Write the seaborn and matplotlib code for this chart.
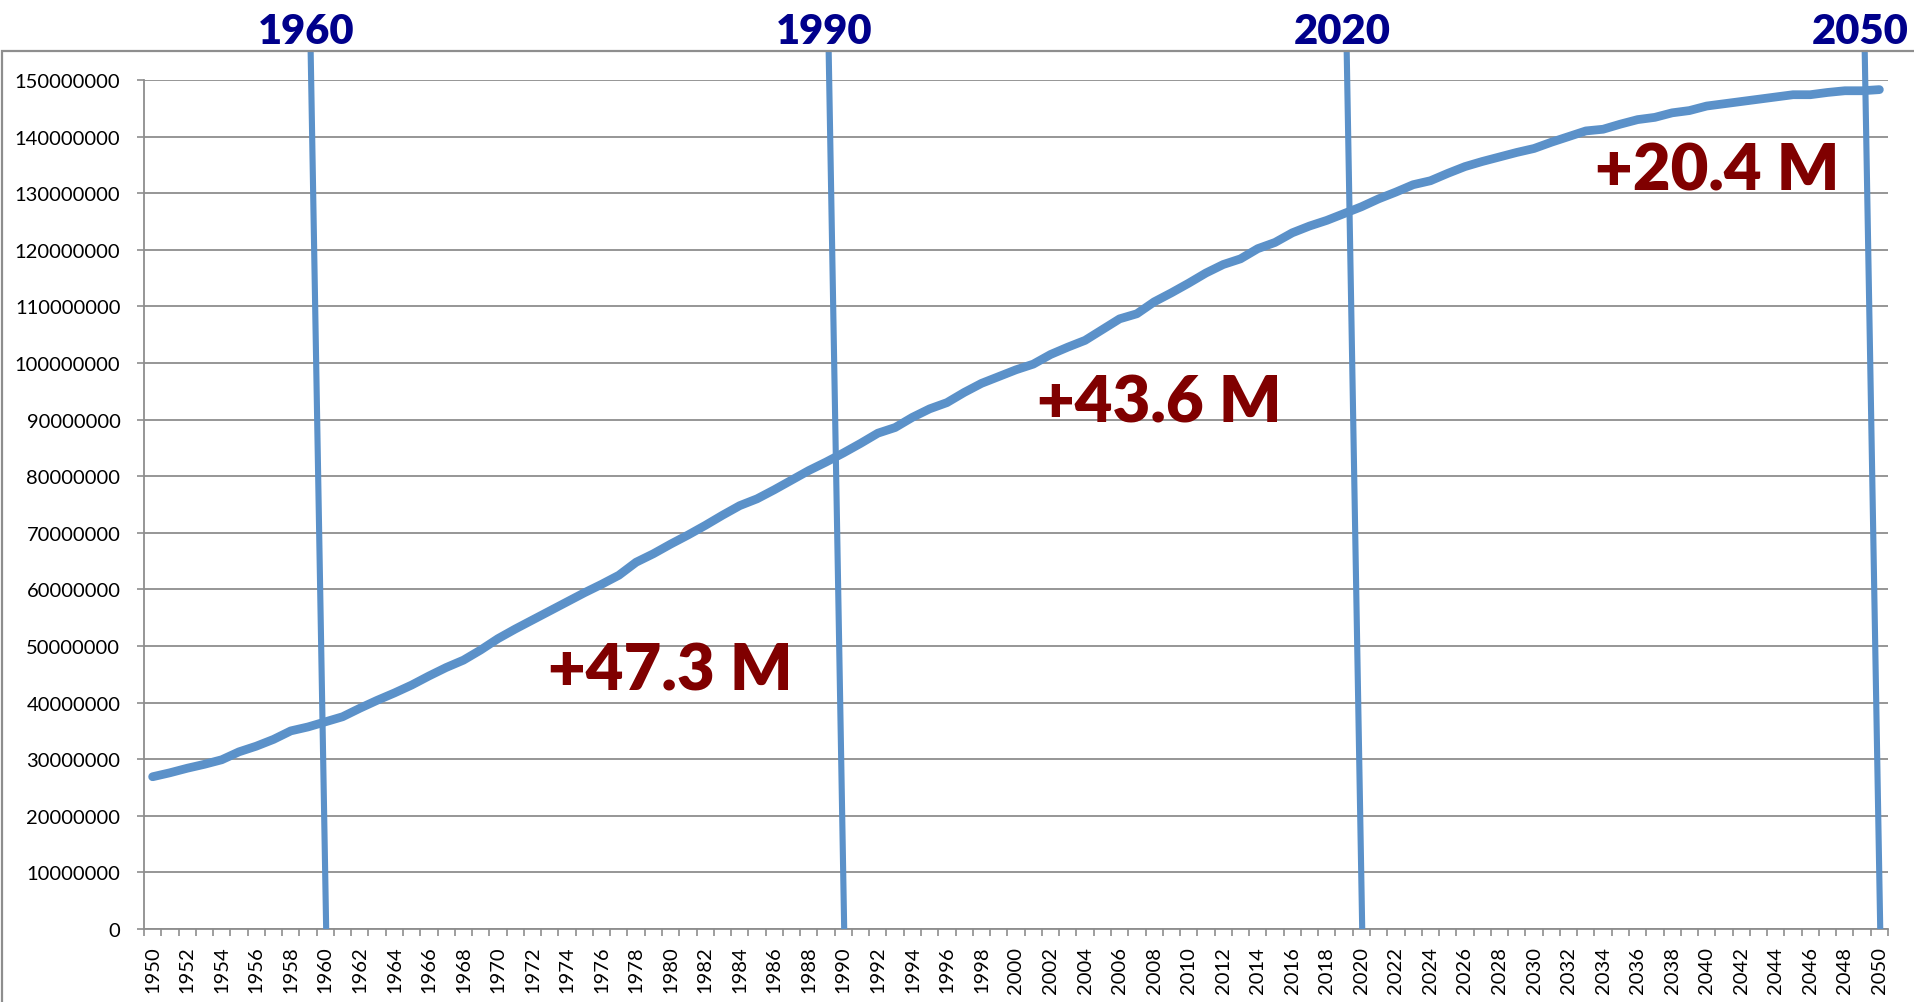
import numpy as np
import pandas as pd
import matplotlib
matplotlib.use("Agg")
import matplotlib.pyplot as plt
from matplotlib.patches import Rectangle
from matplotlib.ticker import FuncFormatter, MultipleLocator, FixedLocator
import seaborn as sns

# ---------------- data ----------------
years = list(range(1950, 2051))
population_millions = [
    26.9, 27.6, 28.4, 29.1, 29.9, 31.3, 32.3, 33.5, 35.0, 35.7,   # 1950-1959
    36.6, 37.5, 39.0, 40.4, 41.7, 43.1, 44.7, 46.2, 47.5, 49.3,   # 1960-1969
    51.3, 53.0, 54.6, 56.2, 57.8, 59.4, 60.9, 62.5, 64.8, 66.3,   # 1970-1979
    68.0, 69.6, 71.3, 73.1, 74.8, 76.0, 77.6, 79.3, 81.0, 82.5,   # 1980-1989
    84.1, 85.8, 87.6, 88.6, 90.4, 91.9, 93.0, 94.8, 96.4, 97.6,   # 1990-1999
    98.8, 99.8, 101.5, 102.8, 104.0, 105.9, 107.8, 108.7, 110.8, 112.4,  # 2000-2009
    114.1, 115.9, 117.4, 118.4, 120.2, 121.3, 123.0, 124.2, 125.2, 126.4,  # 2010-2019
    127.6, 129.0, 130.2, 131.5, 132.2, 133.5, 134.7, 135.6, 136.4, 137.2,  # 2020-2029
    137.9, 139.0, 140.0, 141.0, 141.3, 142.2, 143.0, 143.4, 144.2, 144.6,  # 2030-2039
    145.4, 145.8, 146.2, 146.6, 147.0, 147.4, 147.4, 147.8, 148.1, 148.1,  # 2040-2049
    148.3,                                                          # 2050
]
marker_years = [1960, 1990, 2020, 2050]
marker_labels = ["1960", "1990", "2020", "2050"]
growth_labels = ["+47.3 M", "+43.6 M", "+20.4 M"]

df = pd.DataFrame({"year": years, "population": np.array(population_millions) * 1e6})

# ---------------- style ----------------
sns.set_style("white")
plt.rcParams["font.family"] = ["Lato", "DejaVu Sans"]

W, H = 1915, 1003
fig = plt.figure(figsize=(W / 100, H / 100), dpi=100)
ax = fig.add_axes([144 / W, 1 - 930 / H, (1888 - 144) / W, (930 - 81) / H])

line_blue = "#5B91C9"
grid_gray = "#8E8E8E"

sns.lineplot(data=df, x="year", y="population", ax=ax, color=line_blue,
             linewidth=6.3, solid_capstyle="round", solid_joinstyle="round", zorder=3)

ax.set_xlim(1949.5, 2050.5)
ax.set_ylim(0, 150e6)
ax.set_xlabel("")
ax.set_ylabel("")

# y axis
ax.yaxis.set_major_locator(MultipleLocator(10e6))
ax.yaxis.set_major_formatter(FuncFormatter(lambda v, p: f"{int(round(v))}"))
ax.yaxis.grid(True, color=grid_gray, linewidth=1.3)
ax.xaxis.grid(False)
ax.tick_params(axis="y", which="major", length=5, width=1.2, color=grid_gray,
               labelsize=14.5, pad=12, labelcolor="black", left=True)

# x axis: labels every 2 years, ticks at category boundaries
ax.xaxis.set_major_locator(FixedLocator(years[::2]))
ax.set_xticklabels([str(y) for y in years[::2]], rotation=90)
ax.xaxis.set_minor_locator(FixedLocator(np.arange(1949.5, 2051, 1.0)))
ax.tick_params(axis="x", which="major", length=0, labelsize=14.5, pad=12, labelcolor="black")
ax.tick_params(axis="x", which="minor", length=5, width=1.2, color=grid_gray, bottom=True)

for s in ["top", "right"]:
    ax.spines[s].set_visible(False)
for s in ["left", "bottom"]:
    ax.spines[s].set_color(grid_gray)
    ax.spines[s].set_linewidth(1.3)

# ---------------- slanted year markers ----------------
y_top = 155.3e6
for yr, lab in zip(marker_years, marker_labels):
    ax.plot([yr - 0.85, yr + 0.05], [y_top, 0], color=line_blue, linewidth=4.4,
            clip_on=False, zorder=4, solid_capstyle="butt")
    ax.text(yr - 1.1, 156.5e6, lab, ha="center", va="baseline", fontsize=30,
            fontweight="heavy", color="#00008B", clip_on=False)

# ---------------- growth annotations ----------------
growth_pos = [(1980.0, 42.4e6), (2008.3, 89.6e6), (2040.6, 130.7e6)]
for (gx, gy), txt in zip(growth_pos, growth_labels):
    ax.text(gx, gy, txt, ha="center", va="baseline", fontsize=47,
            fontweight="heavy", color="#800000", zorder=5)

# ---------------- outer frame ----------------
fig.add_artist(Rectangle((2 / W, -0.05), 1.1, 1 - 52 / H + 0.05, transform=fig.transFigure,
                         fill=False, edgecolor=grid_gray, linewidth=1.6))

fig.savefig("out.png", dpi=100)
